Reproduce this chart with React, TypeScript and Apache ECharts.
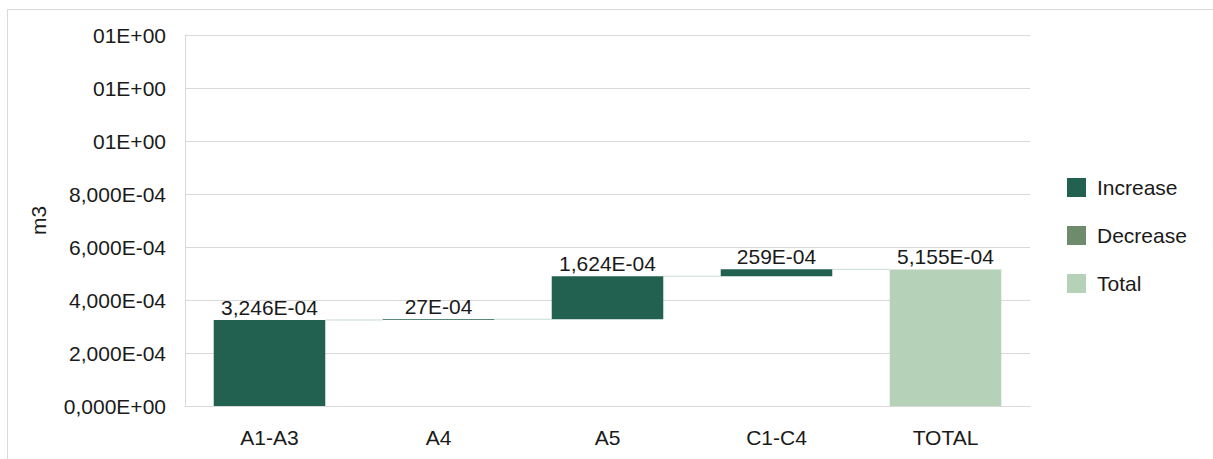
import React, { useEffect, useRef } from "react";
import * as echarts from "echarts";

const categories = ["A1-A3", "A4", "A5", "C1-C4", "TOTAL"];
const increaseValues = [3.246e-4, 0.027e-4, 1.624e-4, 0.259e-4];
const totalValue = 5.155e-4;
const valueLabels = ["3,246E-04", "27E-04", "1,624E-04", "259E-04", "5,155E-04"];
const yTickLabels = ["0,000E+00", "2,000E-04", "4,000E-04", "6,000E-04", "8,000E-04", "01E+00", "01E+00", "01E+00"];
const legendNames = ["Increase", "Decrease", "Total"];

const FONT = "'Liberation Sans', Arial, sans-serif";
const C_INC = "#22604f";
const C_DEC = "#6e8b6b";
const C_TOT = "#b5d1b7";
const TXT = "#1a1a1a";
const FS = 21;

export default function App() {
  const ref = useRef<HTMLDivElement>(null);
  useEffect(() => {
    if (!ref.current) return;
    const chart = echarts.init(ref.current, undefined, { renderer: "svg" });

    const base: number[] = [];
    let cum = 0;
    const levels: number[] = [];
    increaseValues.forEach((v) => {
      base.push(cum);
      cum += v;
      levels.push(cum);
    });
    const baseData: any[] = [...base, "-"];
    const incData: any[] = [...increaseValues, "-"];
    const decData: any[] = categories.map(() => "-");
    const totData: any[] = [...increaseValues.map(() => "-"), totalValue];
    const connectorData = levels.map((l, i) => [i, l]);

    const step = 2e-4;
    const labelCfg = {
      show: true,
      position: "top",
      distance: 2,
      fontSize: FS,
      color: TXT,
      fontFamily: FONT,
      formatter: (p: any) => valueLabels[p.dataIndex],
    };
    const option: any = {
      animation: false,
      textStyle: { fontFamily: FONT },
      graphic: [
        {
          type: "rect",
          shape: { x: 7.5, y: 9.5, width: 1240, height: 470 },
          style: { fill: "none", stroke: "#d9d9d9", lineWidth: 1 },
          silent: true,
        },
      ],
      grid: { left: 185, right: 183, top: 35, bottom: 53, containLabel: false },
      legend: {
        data: legendNames,
        orient: "vertical",
        left: 1067,
        top: 177,
        padding: 0,
        icon: "rect",
        itemWidth: 19,
        itemHeight: 19,
        itemGap: 27,
        textStyle: { fontSize: 21, color: TXT, fontFamily: FONT, padding: [0, 0, 0, 6] },
      },
      xAxis: {
        type: "category",
        data: categories,
        axisLine: { lineStyle: { color: "#d9d9d9" } },
        axisTick: { show: false },
        axisLabel: { fontSize: FS, color: TXT, margin: 21, fontFamily: FONT },
      },
      yAxis: {
        type: "value",
        min: 0,
        max: step * 7,
        interval: step,
        name: "m3",
        nameLocation: "middle",
        nameGap: 136,
        nameRotate: 90,
        nameTextStyle: { fontSize: FS, color: TXT, fontFamily: FONT },
        axisLine: { show: true, lineStyle: { color: "#d9d9d9" } },
        axisTick: { show: false },
        splitLine: { lineStyle: { color: "#d9d9d9" } },
        axisLabel: {
          fontSize: FS,
          color: TXT,
          margin: 19,
          fontFamily: FONT,
          formatter: (v: number) => yTickLabels[Math.round(v / step)] ?? "",
        },
      },
      series: [
        {
          name: "base",
          type: "bar",
          stack: "w",
          barWidth: "66%",
          itemStyle: { color: "transparent" },
          emphasis: { disabled: true },
          data: baseData,
          silent: true,
        },
        {
          name: "Increase",
          type: "bar",
          stack: "w",
          barWidth: "66%",
          itemStyle: { color: C_INC },
          data: incData,
          label: labelCfg,
        },
        {
          name: "Decrease",
          type: "bar",
          stack: "w",
          barWidth: "66%",
          itemStyle: { color: C_DEC },
          data: decData,
        },
        {
          name: "Total",
          type: "bar",
          stack: "w",
          barWidth: "66%",
          itemStyle: { color: C_TOT },
          data: totData,
          label: labelCfg,
        },
        {
          name: "connector",
          type: "custom",
          silent: true,
          z: 1,
          data: connectorData,
          renderItem: (params: any, api: any) => {
            const i = api.value(0);
            const l = api.value(1);
            const bw = api.size([1, 0])[0] * 0.66;
            const p1 = api.coord([i, l]);
            const p2 = api.coord([i + 1, l]);
            return {
              type: "line",
              shape: { x1: p1[0] + bw / 2, y1: p1[1], x2: p2[0] - bw / 2, y2: p1[1] },
              style: { stroke: "#c9dcd6", lineWidth: 1 },
            };
          },
        },
      ],
    };
    chart.setOption(option);
    return () => chart.dispose();
  }, []);
  return (
    <div
      ref={ref}
      style={{ position: "fixed", left: 0, top: 0, width: 1213, height: 459, background: "#fff" }}
    />
  );
}
